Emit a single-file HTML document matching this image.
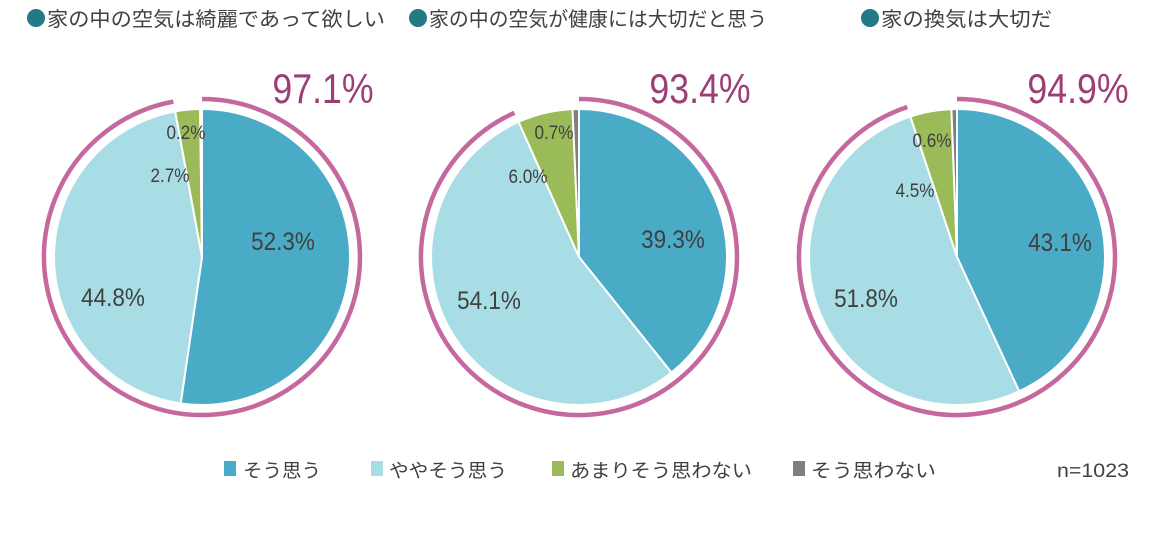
<!DOCTYPE html>
<html><head><meta charset="utf-8">
<style>
html,body{margin:0;padding:0;background:#fff;}
svg text{font-family:"Liberation Sans","Noto Sans CJK JP",sans-serif;}
</style></head><body>
<svg id="s" width="1160" height="528" xmlns="http://www.w3.org/2000/svg">
<circle cx="36" cy="18" r="9" fill="#237a87"/>
<text x="47" y="26" font-size="20" fill="#404040" textLength="338" lengthAdjust="spacingAndGlyphs">家の中の空気は綺麗であって欲しい</text>
<circle cx="418" cy="18" r="9" fill="#237a87"/>
<text x="429" y="26" font-size="20" fill="#404040" textLength="338" lengthAdjust="spacingAndGlyphs">家の中の空気が健康には大切だと思う</text>
<circle cx="870" cy="18" r="9" fill="#237a87"/>
<text x="881" y="26" font-size="20" fill="#404040" textLength="171" lengthAdjust="spacingAndGlyphs">家の換気は大切だ</text>
<g id="pies"></g>
<g font-size="19" fill="#404040">
<rect x="224" y="461" width="12" height="15" fill="#4aabc6"/><text x="243" y="477" textLength="78" lengthAdjust="spacingAndGlyphs">そう思う</text>
<rect x="293" y="461" width="0" height="0"/>
<rect x="292" y="461" width="0" height="0"/>
<rect x="292" y="461" width="0" height="0"/>
<rect x="292" y="461" width="0" height="0"/>
<rect x="292" y="461" width="0" height="0"/>
<rect x="292" y="461" width="0" height="0"/>
<rect x="292" y="461" width="0" height="0"/>
<rect x="292" y="461" width="0" height="0"/>
<rect x="292" y="461" width="0" height="0"/>
<rect x="292" y="461" width="0" height="0"/>
<rect x="371" y="461" width="12" height="15" fill="#a8dde6"/><text x="305" y="477" transform="translate(0 0)" opacity="0"></text><text x="305" y="477" opacity="0"></text><text x="305" y="477" opacity="0"></text><text x="305" y="477" opacity="0"></text><text x="305" y="477" opacity="0"></text><text x="305" y="477" opacity="0"></text>
<text x="305" y="477" opacity="0"></text>
<text x="389" y="477" textLength="118" lengthAdjust="spacingAndGlyphs">ややそう思う</text>
<rect x="552" y="461" width="12" height="15" fill="#9bbb59"/><text x="570" y="477" textLength="182" lengthAdjust="spacingAndGlyphs">あまりそう思わない</text>
<rect x="793" y="461" width="12" height="15" fill="#7f7f7f"/><text x="811" y="477" textLength="125" lengthAdjust="spacingAndGlyphs">そう思わない</text>
<text x="1057" y="477" textLength="72" lengthAdjust="spacingAndGlyphs">n=1023</text>
</g>
</svg>
<script>
var data=[
 {cx:202,v:[52.3,44.8,2.7,0.2],big:"97.1%",bx:323,lab:[[283,241],[113,297],[170,175],[186,132]]},
 {cx:579,v:[39.3,54.1,6.0,0.7],big:"93.4%",bx:700,lab:[[673,239],[489,300],[528,176],[554,132]]},
 {cx:957,v:[43.1,51.8,4.5,0.6],big:"94.9%",bx:1078,lab:[[1060,242],[866,298],[915,190],[932,140]]}
];
var cols=["#4aabc6","#a8dde6","#9bbb59","#7f7f7f"];
var g=document.getElementById("pies"),h="";
function pt(cx,cy,r,f){var a=f*2*Math.PI;return [cx+r*Math.sin(a),cy-r*Math.cos(a)];}
data.forEach(function(d){
 var cy=257,r=148,tot=d.v.reduce(function(a,b){return a+b},0),acc=0;
 d.v.forEach(function(v,i){
  var f0=acc/tot,f1=(acc+v)/tot;acc+=v;
  var p0=pt(d.cx,cy,r,f0),p1=pt(d.cx,cy,r,f1),lg=(f1-f0)>0.5?1:0;
  h+='<path d="M'+d.cx+','+cy+'L'+p0[0]+','+p0[1]+'A'+r+','+r+' 0 '+lg+' 1 '+p1[0]+','+p1[1]+'Z" fill="'+cols[i]+'" stroke="#fff" stroke-width="2"/>';
 });
 var R=158,fr=(d.v[0]+d.v[1])/tot;
 var q0=pt(d.cx,cy,R,0),q1=pt(d.cx,cy,R,fr);
 h+='<path d="M'+q0[0]+','+q0[1]+'A'+R+','+R+' 0 1 1 '+q1[0]+','+q1[1]+'" fill="none" stroke="#c4689e" stroke-width="4.5"/>';
 h+='<text transform="translate('+d.bx+',103) scale(0.85,1)" font-size="42" fill="#9c3f77" text-anchor="middle">'+d.big+'</text>';
 d.lab.forEach(function(l,i){
  var fs=i<2?25:19;
  h+='<text transform="translate('+l[0]+','+(l[1]+fs*0.36)+') scale(0.9,1)" font-size="'+fs+'" fill="#404040" text-anchor="middle">'+d.v[i].toFixed(1)+'%</text>';
 });
});
g.innerHTML=h;
</script>
</body></html>
